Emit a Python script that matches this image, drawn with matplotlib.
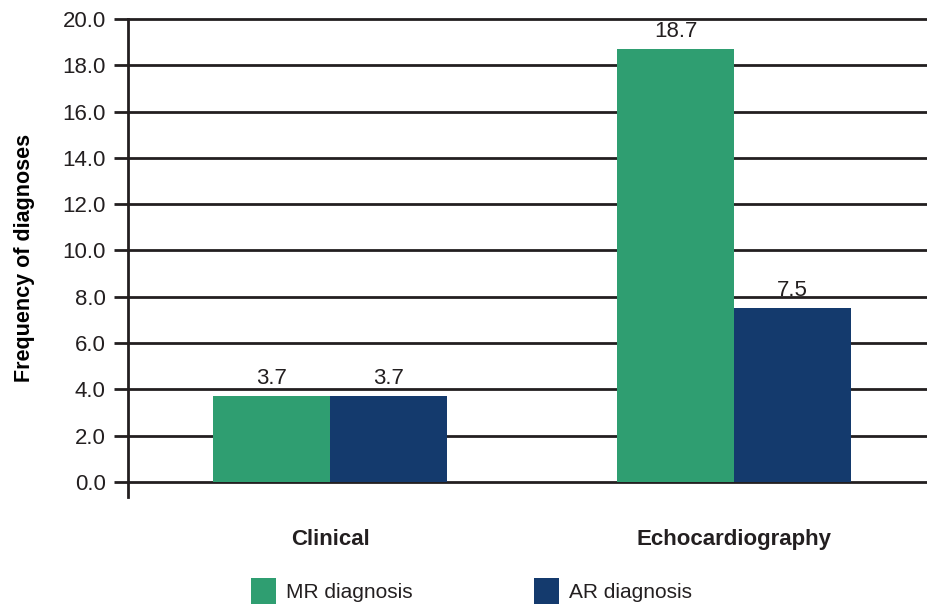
import matplotlib
matplotlib.use('Agg')
import matplotlib.pyplot as plt
import numpy

categories = ['Clinical', 'Echocardiography']
mr_values = [3.7, 18.7]
ar_values = [3.7, 7.5]
series_labels = ['MR diagnosis', 'AR diagnosis']

INK = '#231f20'
GREEN = '#2f9e71'
NAVY = '#143a6d'

plt.rcParams['font.family'] = ['Liberation Sans', 'DejaVu Sans']
plt.rcParams['text.color'] = INK

fig = plt.figure(figsize=(9.28, 6.06), dpi=100)
ax = fig.add_axes([128 / 928, 1 - 497 / 606, 1 - 128 / 928, (497 - 19) / 606])

x = numpy.arange(len(categories))
width = 0.29
mr_bars = ax.bar(x - width / 2, mr_values, width, color=GREEN, zorder=3,
                 label=series_labels[0])
ar_bars = ax.bar(x + width / 2, ar_values, width, color=NAVY, zorder=3,
                 label=series_labels[1])

for bars, vals in ((mr_bars, mr_values), (ar_bars, ar_values)):
    for b, v in zip(bars, vals):
        ax.annotate(f'{v:.1f}', (b.get_x() + b.get_width() / 2, v),
                    xytext=(0, 5), textcoords='offset points',
                    ha='center', va='bottom', fontsize=16, color=INK)

yticks = numpy.arange(0, 20.1, 2.0)
for yv in yticks:
    ax.axhline(yv, color=INK, lw=2.0, zorder=1, clip_on=False)

ax.set_ylim(-0.65, 20)
ax.set_xlim(-0.5, 1.48)
ax.set_yticks(yticks)
ax.set_yticklabels([f'{v:.1f}' for v in yticks], fontsize=16)
ax.tick_params(axis='y', direction='out', length=10, width=2.0, color=INK,
               pad=6, labelcolor=INK)
ax.set_xticks(x)
ax.set_xticklabels(categories, fontsize=16, fontweight='bold')
ax.tick_params(axis='x', length=0, pad=23, labelcolor=INK)

for side in ('top', 'right', 'bottom'):
    ax.spines[side].set_visible(False)
ax.spines['left'].set_color(INK)
ax.spines['left'].set_linewidth(2.0)
ax.spines['left'].set_bounds(-0.65, 20)

ax.set_ylabel('Frequency of diagnoses', fontsize=15.5, fontweight='bold',
              labelpad=20)

fig.legend(handles=[mr_bars, ar_bars], loc='center', ncol=2,
           bbox_to_anchor=(0.508, 1 - 591 / 606), frameon=False, fontsize=15,
           handlelength=1.2, handleheight=1.5, handletextpad=0.5,
           columnspacing=5.8)

fig.savefig('out.png', dpi=100, facecolor='white')
